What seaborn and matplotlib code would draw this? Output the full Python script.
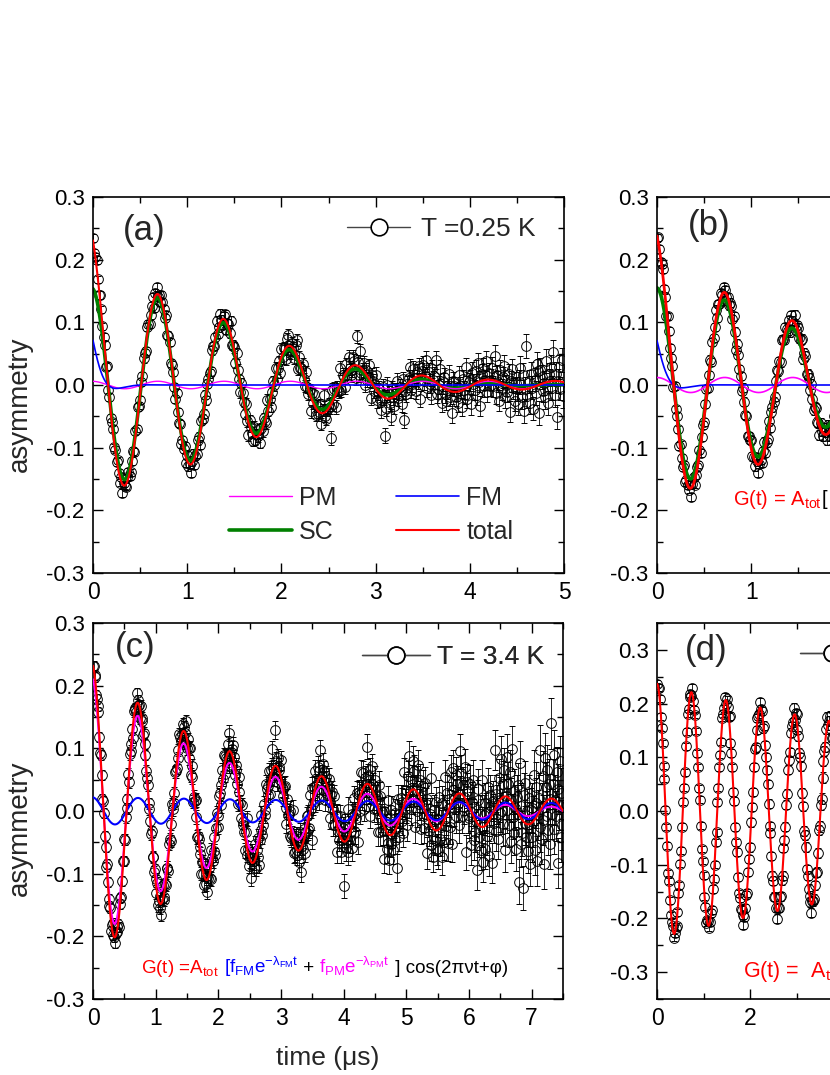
import numpy as np
import seaborn as sns
import matplotlib
matplotlib.use("Agg")
import matplotlib.pyplot as plt
import matplotlib.transforms as mtransforms
from matplotlib.lines import Line2D
from matplotlib.ticker import MultipleLocator, FuncFormatter

# ─── Fit parameters ──────────────────────────────────────────────────────────
# amplitude, relaxation rate (1/us); frequency nu (MHz) and phase phi (rad)

nu_a, phi_a = 1.422, 0.14
sc_a = [0.155, 0.68]      # gaussian rate sigma
pm_a = [0.006, 0.0]
fm_a = [0.072, 9.0]

nu_b, phi_b = 1.385, 0.03
sc_b = [0.155, 0.72]
pm_b = [0.012, 0.0]
fm_b = [0.071, 9.0]

nu_c, phi_c = 1.364, 0.13
pm_c = [0.212, 0.466]
fm_c = [0.022, 0.075]

nu_d, phi_d = 1.351, 0.0
tot_d = [0.237, 0.093]

# ─── Data points : time bin, error per 0.5 us block, residuals (units of 0.6 err)

dt_a, dt_b, dt_c, dt_d = 0.0125, 0.0125, 0.0125, 0.02

err_a = [0.006, 0.0066, 0.0074, 0.0085, 0.0097, 0.011, 0.0125, 0.0145, 0.0165, 0.019]
err_b = [0.006, 0.0066, 0.0072, 0.008]
err_c = [0.008, 0.0088, 0.0098, 0.011, 0.0122, 0.0137, 0.0155, 0.0175, 0.0197,
         0.0222, 0.025, 0.028, 0.0315, 0.0355, 0.04]
err_d = [0.006, 0.0064, 0.0068, 0.0073, 0.0078, 0.0083, 0.0089, 0.0095]

res_a = [
    1, -2, 0, 3, -1, -3, 2, 1, -1, 0, 2, -2, 4, -1, 1, -3, 0, 2, -2, 1,
    -1, 3, 0, -2, 2, -4, 1, 0, -1, 2, 3, -1, -2, 0, 1, -3, 2, -1, 4, 0,
    -2, 1, -1, 2, 0, -3, 3, 1, -2, -1, 0, 2, -4, 1, 3, -1, 0, -2, 2, 1,
    0, -1, 3, -2, 1, 2, -3, 0, 1, -1, -2, 4, 0, -1, 2, -3, 1, 0, 3, -2,
    2, -1, 0, -3, 1, 3, -2, 0, -1, 2, 1, -4, 2, 0, -1, 3, -2, 1, 0, -1,
    -3, 2, 1, -1, 0, 4, -2, -1, 3, 0, -2, 1, 2, -3, 0, 1, -1, 5, -2, 0,
    1, -2, 3, 0, -1, -3, 2, 1, 0, -2, 3, -1, -4, 2, 1, 0, -2, 3, -1, 1,
    0, 2, -3, 1, -1, 2, 0, -2, 4, -1, 1, -3, 0, 2, -1, 3, -2, 0, 1, -4,
    2, -1, 1, 0, -3, 2, 3, -2, -1, 1, 0, -2, 2, 4, -3, 1, -1, 0, 2, -1,
    -2, 3, 0, -1, 1, -4, 2, 0, 3, -2, 1, -1, 0, 2, -3, 1, 5, -1, -2, 0,
    1, 0, -8, 3, -1, 2, -3, 1, 0, -1, 4, -2, 1, 0, -3, 2, -1, 3, 0, -2,
    -1, 2, 1, -3, 7, 1, -2, 4, -1, 0, 2, -3, 1, -1, 3, 0, -4, 2, 1, -1,
    3, -2, 0, 1, -1, -3, 2, 0, -8, -2, 3, 1, -1, -4, 2, 0, -2, 1, 3, -1,
    0, 1, -3, 2, -7, -1, -2, 0, 1, 3, -2, -1, 2, 0, -3, 1, -1, 2, -5, 1,
    2, -1, 0, 3, -2, 1, -1, -3, 2, 0, 1, 4, -2, -1, 0, 3, -3, 1, 2, -1,
    -2, 0, 3, -1, 1, -4, 2, 1, -1, 0, -2, 3, 1, -3, 2, 0, -1, 4, -2, 1,
    1, -3, 2, 0, -1, 2, -2, 3, 0, -4, 1, 2, -1, 0, 3, -2, 1, -1, 0, 2,
    -1, 4, -2, 1, 0, -3, 2, -1, 1, 3, -2, 0, -1, 2, -4, 1, 3, 0, -2, 1,
    0, -2, 1, 3, -1, 2, -3, 0, 6, -1, 1, -2, 2, 0, -3, 1, -1, 3, 2, -4,
    2, 1, -1, 0, -2, 3, -3, 1, 0, 2, -1, 4, -2, 1, -5, 0, 2, -1, 3, -2,
]

res_b = [
    -1, 2, 0, -2, 1, 3, -1, 0, -3, 2, 1, -1, 0, 2, -2, 4, -1, 1, 0, -3,
    2, 0, -1, 3, -2, 1, 0, -1, 2, -4, 1, 3, -2, 0, 1, -1, 2, -3, 0, 1,
    -2, 1, 3, -1, 0, 2, -3, 1, -1, 0, 4, -2, 1, -1, 2, 0, -3, 2, 1, -1,
    0, -2, 1, 2, -1, 3, 0, -4, 2, 1, -1, 0, -2, 3, 1, -1, 2, -3, 0, 1,
    3, -1, 0, -2, 2, 1, -3, 0, 1, -1, 2, 4, -2, 0, -1, 3, -2, 1, 0, -1,
    -2, 1, 2, -1, 0, -3, 3, 1, -1, 2, 0, -2, 1, -4, 2, 0, -1, 3, -2, 1,
    1, -1, 0, 2, -3, 1, 2, -2, 0, 1, -1, 3, 0, -2, 1, 2, -1, 0, -3, 2,
    0, -1, 2, 1, -2, 3, -1, 0, 1, -2, 2, -1,
]

res_c = [
    0, 1, -1, 2, -2, 0, 1, 3, -1, -2, 2, 0, -3, 1, 2, -1, 0, -2, 3, 1,
    -1, 0, 2, -3, 1, -1, 4, 0, -2, 1, 2, -1, 0, -3, 2, 1, -2, 0, 3, -1,
    2, -2, 1, 0, -1, 3, -3, 2, 0, -1, 1, -4, 2, 1, 0, -2, 3, -1, 1, 0,
    -3, 2, 0, 1, -1, 2, -2, 4, -1, 0, 1, -3, 2, 0, -1, 3, -2, 1, -1, 2,
    1, -1, 3, -2, 0, 2, -1, -3, 1, 4, 0, -2, 1, -1, 2, 0, -3, 2, 1, -2,
    0, 3, -1, 1, -4, 2, 0, -1, 2, -2, 3, 1, -1, 0, -2, 2, 1, -3, 0, 4,
    -2, 1, 0, -1, 3, -2, 2, 1, -3, 0, 1, -1, 5, -2, 0, 1, -1, 2, -3, 1,
    2, 0, -2, 3, -1, 1, -3, 0, 2, -1, -2, 4, 1, -1, 0, 2, -4, 1, 3, -2,
    -1, 2, 1, -3, 0, 2, -1, 3, -2, 1, 0, -1, 2, -3, 4, -1, 0, 1, -2, 3,
    1, -2, 0, 2, -1, -4, 3, 1, 0, -2, 2, -1, 1, 0, -3, 2, 6, -1, 1, -2,
    0, 1, -3, 2, 1, -1, 0, 3, -2, 1, -1, 2, -4, 0, 1, 3, -2, -1, 2, 0,
    -2, 3, 1, -1, 0, 2, -3, 1, -1, 4, 0, -2, 7, 1, -1, -3, 2, 0, 1, -1,
    3, -1, -2, 0, 1, 2, -1, -3, 2, 0, 1, -2, 3, -1, 0, 5, -2, 1, -1, 2,
    -1, 0, 2, -2, 3, -4, 1, 0, -1, 2, 1, -3, 0, 2, -1, 1, -2, 3, 0, -6,
    2, -1, 1, 3, -2, 0, -1, 2, -3, 1, 4, -1, 0, -2, 2, 1, -3, 0, 1, -1,
    0, 2, -1, -3, 1, 2, 0, -2, 3, -1, 1, -4, 2, 0, -1, 3, 1, -2, 0, 2,
    -6, 1, 2, -1, 0, 4, -2, 1, -1, 0, 2, -3, 1, 3, -2, 0, -1, 2, -5, 1,
    1, -2, 3, 0, -1, 2, -3, 1, 0, -2, 5, 1, -1, 2, -4, 0, 3, -1, 1, -2,
    2, 0, -1, 1, -3, 3, 2, -2, 0, 1, -1, -4, 2, 1, 0, -2, 4, -1, -3, 2,
    -1, 3, 0, -2, 1, -1, 2, 0, -5, 3, 1, -2, 0, 2, -1, 1, -3, 4, 0, -1,
    1, -3, 2, 4, -1, 0, -2, 1, 3, -1, 2, -4, 0, 1, -2, 3, -1, 0, 2, -3,
    0, 2, -1, -2, 3, 1, -4, 2, 0, -1, 1, 5, -2, 0, -3, 2, 1, -1, 3, -2,
    -2, 1, 3, -1, 0, -3, 2, 1, -2, 4, 0, -1, 2, -3, 1, 0, -2, 3, -4, 1,
    3, -1, 0, 2, -2, 1, -1, -3, 4, 0, 2, -2, 1, -1, 0, 3, -5, 1, 2, -1,
    -1, 2, -3, 0, 1, 3, -2, 1, -1, 0, -4, 2, 3, -1, 1, -2, 0, 4, -3, 1,
    2, -2, 1, -1, 3, 0, -3, 2, 1, -4, 0, 1, -1, 5, -2, 1, 0, -3, 2, -1,
    0, 3, -1, -2, 1, 2, -4, 0, 3, -1, 1, -2, 2, 0, -3, 4, -1, 1, -2, 0,
    -3, 1, 2, 0, -5, 4, -2, 1, -1, -5, 2, 0, 3, -1, 1, -2, 0, 2, -3, 1,
    1, -1, 0, 3, -2, 1, 2, -3, 0, 1, -1, 4, -2, 0, 2, -1, -4, 3, 1, -1,
    2, -2, 1, 0, -3, 5, -1, 1, -2, 3, 0, -1, 2, -4, 1, 0, 3, -2, 1, -1,
]

res_d = [
    0, -1, 2, 1, -2, 0, 1, -1, 3, -2, 0, 1, -3, 2, 0, -1, 1, 2, -2, 0,
    1, -2, 0, 3, -1, 1, -2, 0, 2, -1, -3, 1, 0, 2, -1, 1, 0, -2, 3, -1,
    -1, 2, 1, -2, 0, -1, 3, 0, -2, 1, 2, -1, 0, -3, 1, 2, -1, 0, 1, -2,
    2, 0, -1, 1, -3, 2, 0, 1, -1, -2, 3, 0, -1, 2, -2, 1, 0, -1, 4, -2,
    0, 1, -2, 2, -1, 0, 3, -1, -2, 1, 0, 2, -3, 1, -1, 0, 2, -2, 1, 0,
    -2, 1, 0, -1, 2, 3, -2, 0, 1, -1, -2, 2, 0, 1, -3, 2, -1, 0, 1, 2,
    1, -1, 3, 0, -2, 1, -1, 2, 0, -3, 1, 0, 2, -1, 1, -2, 3, 0, -1, 1,
    -1, 2, 0, -2, 1, 0, -1, 3, -2, 1, 2, -1, 0, -2, 1, 3, -1, 0, -3, 1,
    2, -1, 1, 0, -2, 2, -3, 1, 0, -1, 1, 2, -2, 0, 3, -1, 1, -2, 0, 1,
    0, -2, 1, 3, -1, 0, 2, -1, -2, 1,
]

# ─── Model of the fits (G(t) written in the figure) ──────────────────────────

def osc(t, amp, lam, nu, phi):
    return amp * np.exp(-lam * t) * np.cos(2 * np.pi * nu * t + phi)


def gosc(t, amp, sig, nu, phi):
    return amp * np.exp(-0.5 * (sig * t) ** 2) * np.cos(2 * np.pi * nu * t + phi)


def err_of(blocks, dt, n):
    per = int(round(0.5 / dt))
    idx = np.minimum(np.arange(n) // per, len(blocks) - 1)
    return np.asarray(blocks)[idx]


RES_UNIT = 0.6   # residual step, in error bars

# ─── Style ───────────────────────────────────────────────────────────────────

sns.set_theme(style="ticks")
plt.rcParams.update({
    "font.family": ["Liberation Sans", "DejaVu Sans"],
    "mathtext.fontset": "custom",
    "mathtext.rm": "Liberation Sans",
    "mathtext.it": "Liberation Sans",
    "mathtext.sf": "Liberation Sans",
    "mathtext.bf": "Liberation Sans:bold",
    "mathtext.default": "regular",
    "axes.unicode_minus": False,
    "axes.edgecolor": "black",
    "xtick.color": "black",
    "ytick.color": "black",
})

W, H = 830, 1075
fig = plt.figure(figsize=(W / 100, H / 100), dpi=100, facecolor="white")


def box(left, top, width, height):
    return [left / W, 1 - (top + height) / H, width / W, height / H]


ax_a = fig.add_axes(box(93, 197, 471, 376))
ax_b = fig.add_axes(box(657, 197, 471, 376))
ax_c = fig.add_axes(box(93, 623, 470, 376))
ax_d = fig.add_axes(box(657, 623, 465, 376))


def style(ax, xmax, xmaj, ylim, xshow=None):
    ax.set_xlim(0, xmax)
    ax.set_ylim(*ylim)
    xshow = xmax if xshow is None else xshow
    ax.xaxis.set_major_locator(MultipleLocator(xmaj))
    ax.xaxis.set_minor_locator(MultipleLocator(xmaj / 2))
    ax.yaxis.set_major_locator(MultipleLocator(0.1))
    ax.yaxis.set_minor_locator(MultipleLocator(0.05))
    ax.yaxis.set_major_formatter(FuncFormatter(lambda v, _: f"{round(v, 2) + 0:.1f}"))
    # labels of ticks that fall outside the cropped picture are left empty
    ax.xaxis.set_major_formatter(FuncFormatter(lambda v, _: f"{v:g}" if v <= xshow else ""))
    ax.tick_params(which="both", direction="in", top=True, right=True,
                   width=1.0, colors="black")
    ax.tick_params(which="major", length=7, pad=6)
    ax.tick_params(which="minor", length=4)
    ax.tick_params(axis="y", labelsize=16)
    ax.tick_params(axis="x", labelsize=16.5)
    for s in ax.spines.values():
        s.set_linewidth(1.2)
        s.set_color("black")
    ax.set_xlabel("")
    ax.set_ylabel("")


def data(ax, t, y, e):
    ax.errorbar(t, y, yerr=e, fmt="o", ms=7, mfc="none", mec="black", mew=0.7,
                ecolor="black", elinewidth=0.6, capsize=2.5, capthick=0.6, zorder=1)


def curve(ax, t, y, color, lw, z):
    sns.lineplot(x=t, y=y, color=color, lw=lw, ax=ax, zorder=z,
                 estimator=None, sort=False)
    return ax.lines[-1]


def t_legend(ax, label, anchor, hl=2.4, pad=0.4):
    proxy = Line2D([], [], color="#444444", lw=1.0, marker="o", ms=12,
                   mfc="white", mec="black", mew=1.2)
    leg = ax.legend(handles=[proxy], labels=[label], loc="center left",
                    bbox_to_anchor=anchor, frameon=False, fontsize=19,
                    handlelength=hl, handletextpad=pad, borderpad=0, borderaxespad=0)
    ax.add_artist(leg)


def formula(ax, x, y, parts, size):
    renderer = fig.canvas.get_renderer()
    trans = ax.transAxes
    for s, c in parts:
        txt = ax.text(x, y, s, color=c, fontsize=size, transform=trans,
                      ha="left", va="baseline")
        ex = txt.get_window_extent(renderer=renderer)
        trans = mtransforms.offset_copy(txt.get_transform(), x=ex.width, units="dots")


RED, GREEN, BLUE, MAG = "#FF0000", "#008000", "#0000FF", "#FF00FF"

# ─── (a) T = 0.25 K ──────────────────────────────────────────────────────────

t_a = dt_a * np.arange(len(res_a))
tf = np.linspace(0, 5, 1500)
sc_f = gosc(tf, *sc_a, nu_a, phi_a)
pm_f = osc(tf, *pm_a, nu_a, phi_a)
fm_f = osc(tf, *fm_a, nu_a, phi_a)
tot_pts = (gosc(t_a, *sc_a, nu_a, phi_a) + osc(t_a, *pm_a, nu_a, phi_a)
           + osc(t_a, *fm_a, nu_a, phi_a))
e_a = err_of(err_a, dt_a, len(res_a))
data(ax_a, t_a, tot_pts + RES_UNIT * np.array(res_a) * e_a, e_a)
l_sc = curve(ax_a, tf, sc_f, GREEN, 2.6, 2.5)
l_pm = curve(ax_a, tf, pm_f, MAG, 1.0, 3)
l_fm = curve(ax_a, tf, fm_f, BLUE, 1.2, 3.2)
l_tot = curve(ax_a, tf, sc_f + pm_f + fm_f, RED, 1.5, 3.5)
style(ax_a, 5, 1, (-0.3, 0.3))
t_legend(ax_a, "T =0.25 K", (0.539, 0.915))
ax_a.legend(handles=[l_pm, l_sc, l_fm, l_tot], labels=["PM", "SC", "FM", "total"],
            ncol=2, loc="center left", bbox_to_anchor=(0.289, 0.155), frameon=False,
            fontsize=18, handlelength=2.5, handletextpad=0.3, columnspacing=2.4,
            labelspacing=0.4, borderpad=0, borderaxespad=0)
ax_a.text(0.064, 0.91, "(a)", transform=ax_a.transAxes, fontsize=25, va="center")
ax_a.set_ylabel("asymmetry", fontsize=20)
ax_a.yaxis.set_label_coords(-0.127, 0.45)

# ─── (b) ─────────────────────────────────────────────────────────────────────

t_b = dt_b * np.arange(len(res_b))
sc_f = gosc(tf, *sc_b, nu_b, phi_b)
pm_f = osc(tf, *pm_b, nu_b, phi_b)
fm_f = osc(tf, *fm_b, nu_b, phi_b)
tot_pts = (gosc(t_b, *sc_b, nu_b, phi_b) + osc(t_b, *pm_b, nu_b, phi_b)
           + osc(t_b, *fm_b, nu_b, phi_b))
e_b = err_of(err_b, dt_b, len(res_b))
data(ax_b, t_b, tot_pts + RES_UNIT * np.array(res_b) * e_b, e_b)
curve(ax_b, tf, sc_f, GREEN, 2.6, 2.5)
curve(ax_b, tf, pm_f, MAG, 1.2, 3)
curve(ax_b, tf, fm_f, BLUE, 1.2, 3.2)
curve(ax_b, tf, sc_f + pm_f + fm_f, RED, 2.0, 3.5)
style(ax_b, 5, 1, (-0.3, 0.3), xshow=1.5)
ax_b.text(0.066, 0.925, "(b)", transform=ax_b.transAxes, fontsize=25, va="center")
formula(ax_b, 0.161, 0.181, [("G(t) = A$_{tot}$", RED), ("[", "black")], 14.5)

# ─── (c) T = 3.4 K ───────────────────────────────────────────────────────────

t_c = dt_c * np.arange(len(res_c))
tf = np.linspace(0, 7.5, 2000)
pm_f = osc(tf, *pm_c, nu_c, phi_c)
fm_f = osc(tf, *fm_c, nu_c, phi_c)
tot_pts = osc(t_c, *pm_c, nu_c, phi_c) + osc(t_c, *fm_c, nu_c, phi_c)
e_c = err_of(err_c, dt_c, len(res_c))
data(ax_c, t_c, tot_pts + RES_UNIT * np.array(res_c) * e_c, e_c)
curve(ax_c, tf, pm_f, MAG, 1.5, 3)
curve(ax_c, tf, fm_f, BLUE, 1.5, 3.2)
curve(ax_c, tf, pm_f + fm_f, RED, 1.5, 3.5)
style(ax_c, 7.5, 1, (-0.3, 0.3))
t_legend(ax_c, "T = 3.4 K", (0.572, 0.91), hl=2.6, pad=0.25)
ax_c.text(0.047, 0.934, "(c)", transform=ax_c.transAxes, fontsize=25, va="center")
ax_c.set_ylabel("asymmetry", fontsize=20)
ax_c.yaxis.set_label_coords(-0.127, 0.455)
ax_c.set_xlabel("time (μs)", fontsize=19)
ax_c.xaxis.set_label_coords(0.5, -0.125)
formula(ax_c, 0.102, 0.069, [
    ("G(t) =A$_{tot}$", RED),
    (" [f$_{FM}$e$^{-λ_{FM}t}$", BLUE),
    (" + ", "black"),
    ("f$_{PM}$e$^{-λ_{PM}t}$", MAG),
    (" ] cos(2πνt+φ)", "black"),
], 13.5)

# ─── (d) ─────────────────────────────────────────────────────────────────────

t_d = dt_d * np.arange(len(res_d))
tf = np.linspace(0, 10, 3000)
e_d = err_of(err_d, dt_d, len(res_d))
data(ax_d, t_d, osc(t_d, *tot_d, nu_d, phi_d) + RES_UNIT * np.array(res_d) * e_d, e_d)
curve(ax_d, tf, osc(tf, *tot_d, nu_d, phi_d), RED, 1.5, 3.5)
style(ax_d, 10, 2, (-0.35, 0.35), xshow=3)
t_legend(ax_d, "", (0.3075, 0.915))
ax_d.text(0.06, 0.928, "(d)", transform=ax_d.transAxes, fontsize=25, va="center")
formula(ax_d, 0.185, 0.0585, [("G(t) =  A$_{tot}$", RED)], 15.5)

fig.savefig("out.png", dpi=100)
